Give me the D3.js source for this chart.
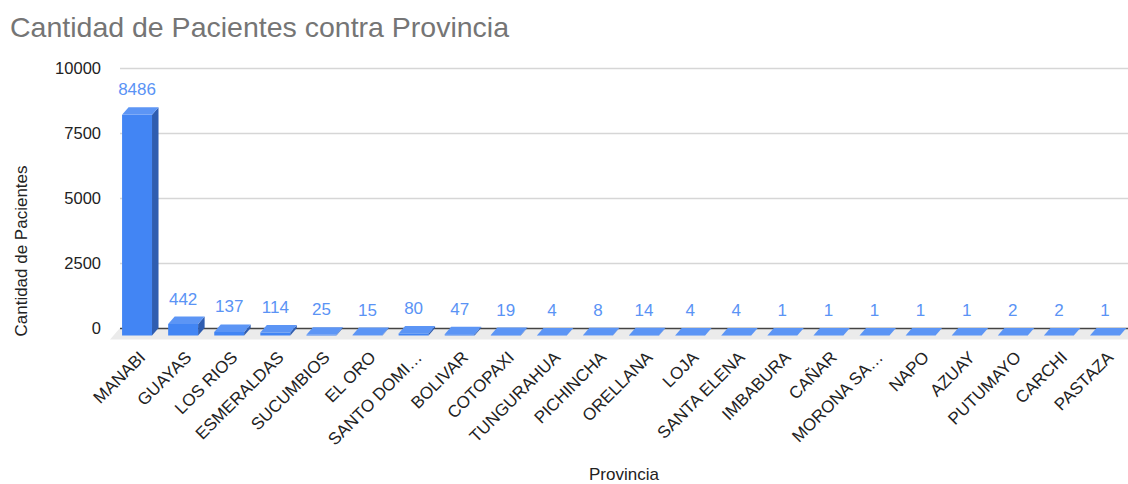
<!DOCTYPE html>
<html>
<head>
<meta charset="utf-8">
<script src="https://cdn.jsdelivr.net/npm/d3@7"></script>
<style>
  body { margin: 0; background: #fff; }
  svg { display: block; font-family: Arial, "Liberation Sans", sans-serif; }
</style>
</head>
<body>
<svg id="chart" width="1128" height="484"></svg>
<script>
// Patients per province
const provincias = ["MANABI", "GUAYAS", "LOS RIOS", "ESMERALDAS", "SUCUMBIOS", "EL ORO",
  "SANTO DOMI…", "BOLIVAR", "COTOPAXI", "TUNGURAHUA", "PICHINCHA", "ORELLANA", "LOJA",
  "SANTA ELENA", "IMBABURA", "CAÑAR", "MORONA SA…", "NAPO", "AZUAY", "PUTUMAYO", "CARCHI", "PASTAZA"];
const pacientes = [8486, 442, 137, 114, 25, 15, 80, 47, 19, 4, 8, 14, 4, 4, 1, 1, 1, 1, 1, 2, 2, 1];
const yTicks = [0, 2500, 5000, 7500, 10000];

const svg = d3.select("#chart");
const W = 1128;

// 3D depth offset of the columns
const DX = 6.5, DY = 7.5;

const x = d3.scaleBand()
  .domain(provincias)
  .range([114, W])
  .paddingInner(0.35)
  .paddingOuter(0.175);

// back-plane scale (gridlines); the column fronts sit DY lower
const y = d3.scaleLinear().domain([0, 10000]).range([328, 68]);

// gridlines and tick labels
const grid = svg.append("g");
grid.selectAll("line").data(yTicks.filter(d => d > 0)).join("line")
  .attr("x1", 120).attr("x2", W)
  .attr("y1", d => Math.round(y(d)) + 0.5).attr("y2", d => Math.round(y(d)) + 0.5)
  .attr("stroke", "#d6d6d6").attr("stroke-width", 1.5);

svg.append("g").selectAll("text").data(yTicks).join("text")
  .attr("x", 101).attr("y", d => y(d)).attr("dy", "0.35em")
  .attr("text-anchor", "end")
  .attr("font-size", 16.5).attr("fill", "#222")
  .text(d => d);

// floor
svg.append("polygon")
  .attr("points", [[110, y(0) + 11.5], [W, y(0) + 11.5], [W, y(0)], [120, y(0)]].map(p => p.join(",")).join(" "))
  .attr("fill", "#ebebeb");

// baseline
svg.append("line")
  .attr("x1", 120).attr("x2", W)
  .attr("y1", y(0) + 0.5).attr("y2", y(0) + 0.5)
  .attr("stroke", "#444").attr("stroke-width", 1.5);

// columns
const data = provincias.map((p, i) => ({ p, v: pacientes[i] }));
const bars = svg.append("g").selectAll("g").data(data).join("g");

bars.each(function (d) {
  const g = d3.select(this);
  const x0 = x(d.p), x1 = x0 + x.bandwidth();
  const yb = y(0) + DY;           // front bottom
  const yt = y(d.v) + DY;         // front top
  const pts = a => a.map(p => p.join(",")).join(" ");
  // front face
  g.append("rect").attr("x", x0).attr("y", yt).attr("width", x1 - x0).attr("height", Math.max(0, yb - yt))
    .attr("fill", "#4285f4");
  // side face
  g.append("polygon").attr("points", pts([[x1, yb], [x1 + DX, yb - DY], [x1 + DX, yt - DY], [x1, yt]]))
    .attr("fill", "#2f5db0");
  // top face
  g.append("polygon").attr("points", pts([[x0, yt], [x1, yt], [x1 + DX, yt - DY], [x0 + DX, yt - DY]]))
    .attr("fill", "#5c95f5");
});

// value labels
bars.append("text")
  .attr("x", d => x(d.p) + x.bandwidth() / 2)
  .attr("y", d => y(d.v) - 12)
  .attr("text-anchor", "middle")
  .attr("font-size", 17).attr("fill", "#5a93f5")
  .text(d => d.v);

// category labels
svg.append("g").selectAll("text").data(provincias).join("text")
  .attr("transform", d => `translate(${x(d) + x.bandwidth() / 2 + 1},${350}) rotate(-45)`)
  .attr("text-anchor", "end")
  .attr("dy", "0.7em")
  .attr("font-size", 17).attr("fill", "#222")
  .text(d => d);

// title
svg.append("text")
  .attr("x", 10).attr("y", 37)
  .attr("font-size", 28.5).attr("fill", "#757575")
  .text("Cantidad de Pacientes contra Provincia");

// axis titles
svg.append("text")
  .attr("transform", `translate(27,251) rotate(-90)`)
  .attr("text-anchor", "middle")
  .attr("font-size", 17).attr("fill", "#222")
  .text("Cantidad de Pacientes");

svg.append("text")
  .attr("x", 624).attr("y", 480)
  .attr("text-anchor", "middle")
  .attr("font-size", 17).attr("fill", "#222")
  .text("Provincia");
</script>
</body>
</html>
